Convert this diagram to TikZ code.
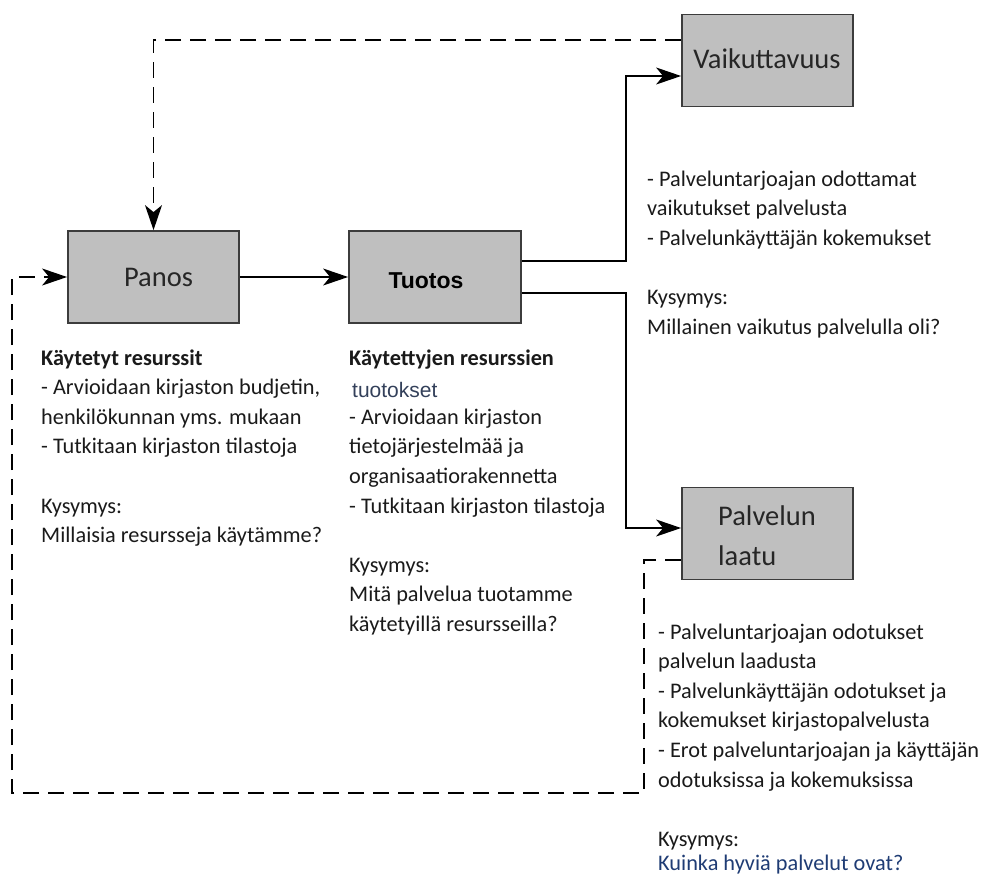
\documentclass[tikz,border=0pt]{standalone}
\usepackage{fontspec}
\setmainfont{Carlito}
\newfontfamily\arialfont{Liberation Sans}
\usetikzlibrary{arrows.meta}
\definecolor{boxfill}{HTML}{BFBFBF}
\definecolor{boxline}{HTML}{3C3C3C}
\definecolor{txt}{HTML}{1A1A1A}
\definecolor{navy}{HTML}{1F3C74}
\definecolor{slate}{HTML}{33405A}
\begin{document}
\begin{tikzpicture}[x=1pt,y=-1pt,
  box/.style={draw=boxline, fill=boxfill, line width=1.8pt, minimum width=171pt, minimum height=92pt, inner sep=0pt},
  boxlabel/.style={font=\fontsize{28.5}{40}\selectfont, text=black!85, inner sep=0pt},
  body/.style={font=\fontsize{22.3}{29.6}\selectfont, text=txt, inner sep=0pt, anchor=base west},
  conn/.style={line width=1.5pt, -{Stealth[length=25pt,width=17pt,inset=7pt]}},
  dconn/.style={conn, dash pattern=on 16pt off 9pt}]
\useasboundingbox (0,0) rectangle (987,876);
% boxes
\node[box] (vaik) at (767.5,60.5) {};
\node[box] (panos) at (153.5,277) {};
\node[box, minimum width=172pt] (tuotos) at (435,277) {};
\node[box] (laatu) at (767.5,533.5) {};
% box labels
\node[boxlabel] (vaiklbl) at (767,59) {Vaikuttavuus};
\node[boxlabel] (panoslbl) at (158.5,277) {Panos};
\node[inner sep=0pt, font=\arialfont\bfseries\fontsize{23}{26}\selectfont, text=black] (tuotoslbl) at (426,281) {Tuotos};
\node[boxlabel, anchor=base west] (laatulbl) at (718,525) {\begin{tabular}[t]{@{}l@{}}Palvelun\\ laatu\end{tabular}};
% connectors
\draw[conn] (panos.east) -- (tuotos.west);
\draw[conn] ([yshift=16pt]tuotos.east) -- ++(104,0) |- ([yshift=-15.5pt]vaik.west);
\draw[conn] ([yshift=-16pt]tuotos.east) -- ++(104,0) |- ([yshift=5.5pt]laatu.west);
\draw[dconn] ([yshift=20.5pt]vaik.west) -| (panos.north);
\coordinate (loopcorner) at (12,793);
\draw[dconn] ([yshift=-26.5pt]laatu.west) -- ++(-37,0) |- (loopcorner) |- (panos.west);
% texts
\node[body] (panostxt) at (41,365) {\begin{tabular}[t]{@{}l@{}}\textbf{Käytetyt resurssit}\\ - Arvioidaan kirjaston budjetin,\\ henkilökunnan yms. mukaan\\ - Tutkitaan kirjaston tilastoja\\ \\ Kysymys:\\ Millaisia resursseja käytämme?\end{tabular}};
\node[body] (tuotostxt) at (349,365) {\begin{tabular}[t]{@{}l@{}}\textbf{Käytettyjen resurssien}\\ \raisebox{-3pt}{\hspace{3pt}{\arialfont\fontsize{21}{26}\selectfont\color{slate}tuotokset}}\\ - Arvioidaan kirjaston\\ tietojärjestelmää ja\\ organisaatiorakennetta\\ - Tutkitaan kirjaston tilastoja\\ \\ Kysymys:\\ Mitä palvelua tuotamme\\ käytetyillä resursseilla?\end{tabular}};
\node[body] (vaiktxt) at (647,186) {\begin{tabular}[t]{@{}l@{}}- Palveluntarjoajan odottamat\\ vaikutukset palvelusta\\ - Palvelunkäyttäjän kokemukset\\ \\ Kysymys:\\ Millainen vaikutus palvelulla oli?\end{tabular}};
\node[body] (laatutxt) at (658,639) {\begin{tabular}[t]{@{}l@{}}- Palveluntarjoajan odotukset\\ palvelun laadusta\\ - Palvelunkäyttäjän odotukset ja\\ kokemukset kirjastopalvelusta\\ - Erot palveluntarjoajan ja käyttäjän\\ odotuksissa ja kokemuksissa\\ \\ Kysymys:\\[-5pt] \textcolor{navy}{Kuinka hyviä palvelut ovat?}\end{tabular}};
\end{tikzpicture}
\end{document}
